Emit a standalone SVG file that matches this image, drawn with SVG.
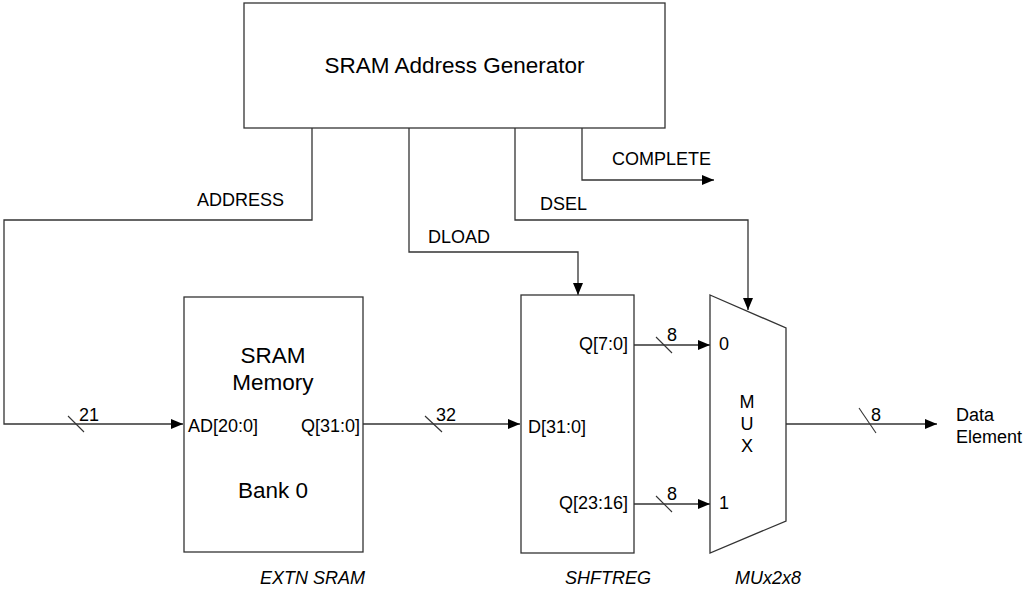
<svg xmlns="http://www.w3.org/2000/svg" width="1027" height="589" viewBox="0 0 1027 589">
  <style>
    .box { fill: #ffffff; stroke: #333333; stroke-width: 1.3; }
    .wire { fill: none; stroke: #333333; stroke-width: 1.3; }
    .tick { stroke: #333333; stroke-width: 1.1; }
    text { font-family: "Liberation Sans", Arial, sans-serif; fill: #000000; }
    .big { font-size: 22.5px; }
    .lbl { font-size: 18px; }
    .cap { font-size: 18px; font-style: italic; }
  </style>
  <defs>
    <marker id="arr" markerWidth="12" markerHeight="10" refX="12" refY="5" orient="auto" markerUnits="userSpaceOnUse">
      <path d="M0,0 L12,5 L0,10 Z" fill="#000000"/>
    </marker>
  </defs>
  <rect width="1027" height="589" fill="#ffffff"/>

  <g id="connectors">
    <!-- ADDRESS -->
    <path class="wire" d="M312,128 V220 H4 V424 H183" marker-end="url(#arr)"/>
    <!-- DLOAD -->
    <path class="wire" d="M409,128 V252 H578 V295" marker-end="url(#arr)"/>
    <!-- DSEL -->
    <path class="wire" d="M515,128 V220 H748 V310" marker-end="url(#arr)"/>
    <!-- COMPLETE -->
    <path class="wire" d="M582,128 V180 H714" marker-end="url(#arr)"/>
    <!-- SRAM data out -->
    <path class="wire" d="M363,424 H520" marker-end="url(#arr)"/>
    <!-- shift register outputs -->
    <path class="wire" d="M634,345 H710" marker-end="url(#arr)"/>
    <path class="wire" d="M634,504 H710" marker-end="url(#arr)"/>
    <!-- mux output -->
    <path class="wire" d="M786,424 H937" marker-end="url(#arr)"/>

    <!-- bus width ticks -->
    <line class="tick" x1="68" y1="416" x2="84" y2="432"/>
    <line class="tick" x1="425" y1="416" x2="442" y2="432"/>
    <line class="tick" x1="656" y1="337" x2="672" y2="353"/>
    <line class="tick" x1="656" y1="496" x2="672" y2="512"/>
    <line class="tick" x1="859" y1="408" x2="876" y2="433"/>

    <text class="lbl" x="197" y="206">ADDRESS</text>
    <text class="lbl" x="428" y="243">DLOAD</text>
    <text class="lbl" x="540" y="210">DSEL</text>
    <text class="lbl" x="612" y="165">COMPLETE</text>
    <text class="lbl" x="79" y="421">21</text>
    <text class="lbl" x="436" y="421">32</text>
    <text class="lbl" x="667" y="341">8</text>
    <text class="lbl" x="667" y="500">8</text>
    <text class="lbl" x="871" y="421">8</text>
  </g>

  <g id="addr-gen">
    <rect class="box" x="244" y="3" width="421" height="125"/>
    <text class="big" x="454.5" y="73" text-anchor="middle">SRAM Address Generator</text>
  </g>

  <g id="sram">
    <rect class="box" x="184" y="297" width="179" height="255"/>
    <text class="big" x="273" y="363" text-anchor="middle">SRAM</text>
    <text class="big" x="273" y="390" text-anchor="middle">Memory</text>
    <text class="lbl" x="188" y="432">AD[20:0]</text>
    <text class="lbl" x="360" y="432" text-anchor="end">Q[31:0]</text>
    <text class="big" x="273" y="498" text-anchor="middle">Bank 0</text>
    <text class="cap" x="260" y="584">EXTN SRAM</text>
  </g>

  <g id="shftreg">
    <rect class="box" x="521" y="295" width="113" height="258"/>
    <text class="lbl" x="528" y="433">D[31:0]</text>
    <text class="lbl" x="628" y="350" text-anchor="end">Q[7:0]</text>
    <text class="lbl" x="628" y="509" text-anchor="end">Q[23:16]</text>
    <text class="cap" x="565" y="584">SHFTREG</text>
  </g>

  <g id="mux">
    <path class="box" d="M710,295 L786,328 L786,521 L710,553 Z"/>
    <text class="lbl" x="719" y="350">0</text>
    <text class="lbl" x="719" y="509">1</text>
    <text class="lbl" x="747" y="408" text-anchor="middle">M</text>
    <text class="lbl" x="747" y="430" text-anchor="middle">U</text>
    <text class="lbl" x="747" y="452" text-anchor="middle">X</text>
    <text class="cap" x="735" y="584">MUx2x8</text>
  </g>

  <g id="output">
    <text class="lbl" x="956" y="421">Data</text>
    <text class="lbl" x="956" y="443">Element</text>
  </g>
</svg>
